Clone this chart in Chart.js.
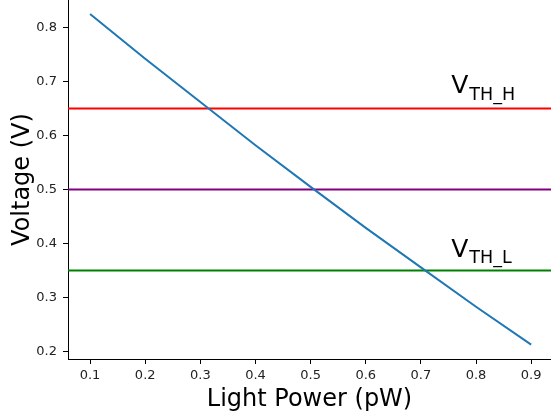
<!DOCTYPE html>
<html lang="en">
<head>
    <meta charset="UTF-8" />
    <title>Voltage vs Light Power</title>
    <script src="https://cdn.jsdelivr.net/npm/chart.js"></script>
    <style>
        html, body { margin: 0; padding: 0; background: #fff; }
        #wrap { width: 551px; height: 418px; }
    </style>
</head>
<body>
    <div id="wrap"><canvas id="voltChart" width="551" height="418"></canvas></div>

    <script>
        // data
        var lightPower = [0.1, 0.2, 0.3, 0.4, 0.5, 0.6, 0.7, 0.8, 0.9];
        var voltage = [0.825, 0.742, 0.662, 0.582, 0.505, 0.429, 0.356, 0.283, 0.213];
        var thresholds = [0.65, 0.5, 0.35];
        var thresholdColors = ['#ff0000', '#800080', '#008000'];
        var xTicks = [0.1, 0.2, 0.3, 0.4, 0.5, 0.6, 0.7, 0.8, 0.9];
        var yTicks = [0.2, 0.3, 0.4, 0.5, 0.6, 0.7, 0.8];

        var xMin = 0.060, xMax = 0.936;
        var yMin = 0.1864, yMax = 0.8508;
        var font = 'DejaVu Sans';

        var datasets = [{
            data: lightPower.map(function (x, i) { return { x: x, y: voltage[i] }; }),
            borderColor: '#1f77b4',
            borderWidth: 2,
            pointRadius: 0,
            tension: 0
        }];
        thresholds.forEach(function (t, i) {
            datasets.push({
                data: [{ x: xMin, y: t }, { x: xMax, y: t }],
                borderColor: thresholdColors[i],
                borderWidth: 2,
                pointRadius: 0
            });
        });

        // V_TH labels, drawn with a main letter and a subscript
        var labelPlugin = {
            id: 'vthLabels',
            afterDatasetsDraw: function (chart) {
                var ctx = chart.ctx;
                var xs = chart.scales.x, ys = chart.scales.y;
                var items = [['TH_H', 0.678], ['TH_L', 0.376]];
                ctx.save();
                ctx.fillStyle = '#000';
                ctx.textBaseline = 'alphabetic';
                items.forEach(function (it) {
                    var px = xs.getPixelForValue(0.755);
                    var py = ys.getPixelForValue(it[1]);
                    ctx.font = '25px "' + font + '"';
                    ctx.fillText('V', px, py);
                    var w = ctx.measureText('V').width;
                    ctx.font = '17.5px "' + font + '"';
                    ctx.fillText(it[0], px + w + 1, py + 6.5);
                });
                ctx.restore();
            }
        };

        var ctx = document.getElementById('voltChart').getContext('2d');
        var chart = new Chart(ctx, {
            type: 'line',
            data: { datasets: datasets },
            options: {
                responsive: false,
                animation: false,
                layout: { padding: 0 },
                plugins: { legend: { display: false }, tooltip: { enabled: false } },
                scales: {
                    x: {
                        type: 'linear',
                        min: xMin,
                        max: xMax,
                        afterBuildTicks: function (s) { s.ticks = xTicks.map(function (v) { return { value: v }; }); },
                        afterFit: function (s) { s.height = 59; s.paddingLeft = 0; s.paddingRight = 0; },
                        grid: { drawOnChartArea: false, drawTicks: true, tickLength: 5, color: '#000', tickWidth: 1 },
                        border: { display: true, color: '#000', width: 1 },
                        ticks: {
                            color: '#222',
                            font: { family: font, size: 13 },
                            padding: 4,
                            maxRotation: 0,
                            callback: function (v) { return v.toFixed(1); }
                        },
                        title: {
                            display: true,
                            text: 'Light Power (pW)',
                            color: '#000',
                            font: { family: font, size: 24 },
                            padding: { top: 0, bottom: 4 }
                        }
                    },
                    y: {
                        type: 'linear',
                        min: yMin,
                        max: yMax,
                        afterBuildTicks: function (s) { s.ticks = yTicks.map(function (v) { return { value: v }; }); },
                        afterFit: function (s) { s.width = 68; s.paddingTop = 0; s.paddingBottom = 0; },
                        grid: { drawOnChartArea: false, drawTicks: true, tickLength: 5, color: '#000', tickWidth: 1 },
                        border: { display: true, color: '#000', width: 1 },
                        ticks: {
                            color: '#222',
                            font: { family: font, size: 13 },
                            padding: 6,
                            callback: function (v) { return v.toFixed(1); }
                        },
                        title: {
                            display: true,
                            text: 'Voltage (V)',
                            color: '#000',
                            font: { family: font, size: 24 },
                            padding: { top: 8, bottom: 0 }
                        }
                    }
                }
            },
            plugins: [labelPlugin]
        });
    </script>
</body>
</html>
